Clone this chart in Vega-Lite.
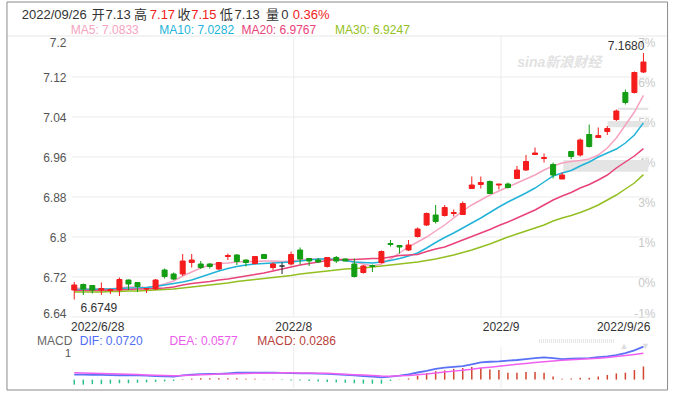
{
  "$schema": "https://vega.github.io/schema/vega-lite/v6.json",
  "width": 677,
  "height": 394,
  "autosize": {"type": "fit", "contains": "padding"},
  "padding": 0,
  "background": "white",
  "config": {"view": {"stroke": null}, "font": "Liberation Sans, Noto Sans CJK SC", "text": {"font": "Liberation Sans, Noto Sans CJK SC"}},
  "datasets": {
    "one": [{}],
    "levels": [{"p": 7.12}, {"p": 7.04}, {"p": 6.96}, {"p": 6.88}, {"p": 6.8}, {"p": 6.72}, {"p": 6.64}],
    "months": [{"m": "2022/8", "i": 24.29}, {"m": "2022/9", "i": 47.24}],
    "head": [
      {"t": "2022/09/26", "k": "g", "x": -5.81},
      {"t": "开", "k": "g", "x": 1.93},
      {"t": "7.13", "k": "g", "x": 3.45},
      {"t": "高", "k": "g", "x": 6.62},
      {"t": "7.17", "k": "r", "x": 8.36},
      {"t": "收", "k": "g", "x": 11.42},
      {"t": "7.15", "k": "r", "x": 12.94},
      {"t": "低", "k": "g", "x": 16.11},
      {"t": "7.13", "k": "g", "x": 17.74},
      {"t": "量", "k": "g", "x": 21.23},
      {"t": "0", "k": "g", "x": 22.92},
      {"t": "0.36%", "k": "r", "x": 24.18}
    ],
    "days": [
      {"d":"2022-06-28","i":0,"o":6.694,"h":6.710,"l":6.675,"c":6.704,"ma5":6.698,"ma10":6.695,"ma20":6.693,"ma30":6.690,"dif":0.0110,"dea":0.0151,"hist":-0.011},
      {"d":"2022-06-29","i":1,"o":6.705,"h":6.707,"l":6.684,"c":6.696,"ma5":6.697,"ma10":6.695,"ma20":6.693,"ma30":6.690,"dif":0.0107,"dea":0.0145,"hist":-0.011},
      {"d":"2022-06-30","i":2,"o":6.703,"h":6.704,"l":6.687,"c":6.694,"ma5":6.696,"ma10":6.695,"ma20":6.693,"ma30":6.690,"dif":0.0104,"dea":0.0139,"hist":-0.010},
      {"d":"2022-07-01","i":3,"o":6.694,"h":6.709,"l":6.684,"c":6.697,"ma5":6.696,"ma10":6.696,"ma20":6.693,"ma30":6.690,"dif":0.0101,"dea":0.0133,"hist":-0.010},
      {"d":"2022-07-04","i":4,"o":6.693,"h":6.697,"l":6.686,"c":6.695,"ma5":6.696,"ma10":6.696,"ma20":6.694,"ma30":6.691,"dif":0.0098,"dea":0.0127,"hist":-0.009},
      {"d":"2022-07-05","i":5,"o":6.694,"h":6.719,"l":6.682,"c":6.715,"ma5":6.698,"ma10":6.697,"ma20":6.694,"ma30":6.691,"dif":0.0095,"dea":0.0121,"hist":-0.008},
      {"d":"2022-07-06","i":6,"o":6.714,"h":6.715,"l":6.694,"c":6.706,"ma5":6.700,"ma10":6.698,"ma20":6.695,"ma30":6.692,"dif":0.0093,"dea":0.0115,"hist":-0.008},
      {"d":"2022-07-07","i":7,"o":6.709,"h":6.710,"l":6.690,"c":6.701,"ma5":6.700,"ma10":6.698,"ma20":6.696,"ma30":6.692,"dif":0.0092,"dea":0.0109,"hist":-0.007},
      {"d":"2022-07-08","i":8,"o":6.696,"h":6.698,"l":6.688,"c":6.697,"ma5":6.699,"ma10":6.699,"ma20":6.696,"ma30":6.693,"dif":0.0085,"dea":0.0103,"hist":-0.006},
      {"d":"2022-07-11","i":9,"o":6.696,"h":6.716,"l":6.694,"c":6.714,"ma5":6.702,"ma10":6.701,"ma20":6.697,"ma30":6.694,"dif":0.0078,"dea":0.0096,"hist":-0.005},
      {"d":"2022-07-12","i":10,"o":6.734,"h":6.737,"l":6.717,"c":6.721,"ma5":6.706,"ma10":6.704,"ma20":6.698,"ma30":6.695,"dif":0.0072,"dea":0.0090,"hist":-0.004},
      {"d":"2022-07-13","i":11,"o":6.726,"h":6.729,"l":6.714,"c":6.716,"ma5":6.712,"ma10":6.707,"ma20":6.700,"ma30":6.696,"dif":0.0067,"dea":0.0085,"hist":-0.003},
      {"d":"2022-07-14","i":12,"o":6.726,"h":6.766,"l":6.722,"c":6.752,"ma5":6.722,"ma10":6.710,"ma20":6.704,"ma30":6.698,"dif":0.0090,"dea":0.0087,"hist":0.001},
      {"d":"2022-07-15","i":13,"o":6.749,"h":6.766,"l":6.739,"c":6.754,"ma5":6.730,"ma10":6.714,"ma20":6.707,"ma30":6.700,"dif":0.0110,"dea":0.0095,"hist":0.002},
      {"d":"2022-07-18","i":14,"o":6.746,"h":6.752,"l":6.736,"c":6.739,"ma5":6.738,"ma10":6.720,"ma20":6.709,"ma30":6.702,"dif":0.0118,"dea":0.0105,"hist":0.003},
      {"d":"2022-07-19","i":15,"o":6.746,"h":6.748,"l":6.737,"c":6.741,"ma5":6.744,"ma10":6.726,"ma20":6.711,"ma30":6.704,"dif":0.0122,"dea":0.0113,"hist":0.003},
      {"d":"2022-07-20","i":16,"o":6.736,"h":6.750,"l":6.734,"c":6.749,"ma5":6.747,"ma10":6.732,"ma20":6.714,"ma30":6.706,"dif":0.0126,"dea":0.0120,"hist":0.003},
      {"d":"2022-07-21","i":17,"o":6.761,"h":6.767,"l":6.754,"c":6.763,"ma5":6.748,"ma10":6.737,"ma20":6.716,"ma30":6.708,"dif":0.0138,"dea":0.0124,"hist":0.003},
      {"d":"2022-07-22","i":18,"o":6.764,"h":6.766,"l":6.744,"c":6.751,"ma5":6.750,"ma10":6.741,"ma20":6.719,"ma30":6.711,"dif":0.0150,"dea":0.0127,"hist":0.003},
      {"d":"2022-07-25","i":19,"o":6.754,"h":6.755,"l":6.741,"c":6.749,"ma5":6.751,"ma10":6.744,"ma20":6.722,"ma30":6.713,"dif":0.0152,"dea":0.0133,"hist":0.002},
      {"d":"2022-07-26","i":20,"o":6.747,"h":6.762,"l":6.745,"c":6.761,"ma5":6.751,"ma10":6.746,"ma20":6.725,"ma30":6.715,"dif":0.0152,"dea":0.0138,"hist":0.002},
      {"d":"2022-07-27","i":21,"o":6.765,"h":6.766,"l":6.756,"c":6.757,"ma5":6.752,"ma10":6.747,"ma20":6.728,"ma30":6.717,"dif":0.0151,"dea":0.0141,"hist":0.001},
      {"d":"2022-07-28","i":22,"o":6.739,"h":6.749,"l":6.734,"c":6.746,"ma5":6.752,"ma10":6.748,"ma20":6.732,"ma30":6.719,"dif":0.0150,"dea":0.0143,"hist":0.0005},
      {"d":"2022-07-29","i":23,"o":6.742,"h":6.749,"l":6.726,"c":6.742,"ma5":6.751,"ma10":6.749,"ma20":6.736,"ma30":6.721,"dif":0.0146,"dea":0.0148,"hist":-0.001},
      {"d":"2022-08-01","i":24,"o":6.746,"h":6.771,"l":6.743,"c":6.765,"ma5":6.752,"ma10":6.750,"ma20":6.740,"ma30":6.723,"dif":0.0142,"dea":0.0147,"hist":-0.002},
      {"d":"2022-08-02","i":25,"o":6.774,"h":6.779,"l":6.745,"c":6.756,"ma5":6.754,"ma10":6.752,"ma20":6.744,"ma30":6.726,"dif":0.0138,"dea":0.0145,"hist":-0.002},
      {"d":"2022-08-03","i":26,"o":6.757,"h":6.758,"l":6.742,"c":6.752,"ma5":6.756,"ma10":6.754,"ma20":6.747,"ma30":6.728,"dif":0.0134,"dea":0.0142,"hist":-0.003},
      {"d":"2022-08-04","i":27,"o":6.754,"h":6.758,"l":6.748,"c":6.750,"ma5":6.756,"ma10":6.756,"ma20":6.750,"ma30":6.730,"dif":0.0130,"dea":0.0139,"hist":-0.004},
      {"d":"2022-08-05","i":28,"o":6.741,"h":6.760,"l":6.739,"c":6.759,"ma5":6.756,"ma10":6.756,"ma20":6.753,"ma30":6.732,"dif":0.0126,"dea":0.0136,"hist":-0.005},
      {"d":"2022-08-08","i":29,"o":6.759,"h":6.762,"l":6.748,"c":6.752,"ma5":6.755,"ma10":6.755,"ma20":6.755,"ma30":6.734,"dif":0.0115,"dea":0.0128,"hist":-0.006},
      {"d":"2022-08-09","i":30,"o":6.756,"h":6.757,"l":6.752,"c":6.752,"ma5":6.753,"ma10":6.753,"ma20":6.755,"ma30":6.736,"dif":0.0103,"dea":0.0118,"hist":-0.007},
      {"d":"2022-08-10","i":31,"o":6.746,"h":6.757,"l":6.719,"c":6.721,"ma5":6.750,"ma10":6.750,"ma20":6.755,"ma30":6.737,"dif":0.0092,"dea":0.0108,"hist":-0.008},
      {"d":"2022-08-11","i":32,"o":6.729,"h":6.744,"l":6.727,"c":6.742,"ma5":6.746,"ma10":6.749,"ma20":6.756,"ma30":6.738,"dif":0.0078,"dea":0.0098,"hist":-0.009},
      {"d":"2022-08-12","i":33,"o":6.743,"h":6.745,"l":6.730,"c":6.741,"ma5":6.742,"ma10":6.748,"ma20":6.757,"ma30":6.740,"dif":0.0064,"dea":0.0088,"hist":-0.009},
      {"d":"2022-08-15","i":34,"o":6.749,"h":6.773,"l":6.747,"c":6.771,"ma5":6.746,"ma10":6.750,"ma20":6.757,"ma30":6.742,"dif":0.0050,"dea":0.0078,"hist":-0.009},
      {"d":"2022-08-16","i":35,"o":6.787,"h":6.794,"l":6.781,"c":6.785,"ma5":6.756,"ma10":6.753,"ma20":6.760,"ma30":6.744,"dif":0.0065,"dea":0.0075,"hist":-0.003},
      {"d":"2022-08-17","i":36,"o":6.783,"h":6.784,"l":6.767,"c":6.780,"ma5":6.768,"ma10":6.757,"ma20":6.763,"ma30":6.746,"dif":0.0085,"dea":0.0082,"hist":0.0005},
      {"d":"2022-08-18","i":37,"o":6.774,"h":6.794,"l":6.772,"c":6.784,"ma5":6.780,"ma10":6.762,"ma20":6.764,"ma30":6.748,"dif":0.0115,"dea":0.0090,"hist":0.0025},
      {"d":"2022-08-19","i":38,"o":6.801,"h":6.819,"l":6.799,"c":6.816,"ma5":6.790,"ma10":6.768,"ma20":6.765,"ma30":6.750,"dif":0.0155,"dea":0.0105,"hist":0.0084},
      {"d":"2022-08-22","i":39,"o":6.824,"h":6.849,"l":6.822,"c":6.847,"ma5":6.800,"ma10":6.778,"ma20":6.771,"ma30":6.753,"dif":0.0190,"dea":0.0120,"hist":0.0143},
      {"d":"2022-08-23","i":40,"o":6.844,"h":6.864,"l":6.827,"c":6.831,"ma5":6.812,"ma10":6.789,"ma20":6.776,"ma30":6.756,"dif":0.0235,"dea":0.0145,"hist":0.0185},
      {"d":"2022-08-24","i":41,"o":6.843,"h":6.864,"l":6.841,"c":6.859,"ma5":6.824,"ma10":6.799,"ma20":6.780,"ma30":6.760,"dif":0.0260,"dea":0.0165,"hist":0.0202},
      {"d":"2022-08-25","i":42,"o":6.847,"h":6.855,"l":6.841,"c":6.849,"ma5":6.838,"ma10":6.808,"ma20":6.787,"ma30":6.764,"dif":0.0280,"dea":0.0185,"hist":0.0235},
      {"d":"2022-08-26","i":43,"o":6.845,"h":6.871,"l":6.844,"c":6.867,"ma5":6.852,"ma10":6.818,"ma20":6.794,"ma30":6.769,"dif":0.0294,"dea":0.0205,"hist":0.0252},
      {"d":"2022-08-29","i":44,"o":6.897,"h":6.921,"l":6.897,"c":6.904,"ma5":6.864,"ma10":6.828,"ma20":6.801,"ma30":6.774,"dif":0.0335,"dea":0.0225,"hist":0.0277},
      {"d":"2022-08-30","i":45,"o":6.905,"h":6.921,"l":6.897,"c":6.909,"ma5":6.874,"ma10":6.838,"ma20":6.808,"ma30":6.780,"dif":0.0378,"dea":0.0252,"hist":0.0252},
      {"d":"2022-08-31","i":46,"o":6.911,"h":6.913,"l":6.886,"c":6.887,"ma5":6.884,"ma10":6.849,"ma20":6.815,"ma30":6.786,"dif":0.0390,"dea":0.0270,"hist":0.0218},
      {"d":"2022-09-01","i":47,"o":6.904,"h":6.906,"l":6.895,"c":6.906,"ma5":6.892,"ma10":6.860,"ma20":6.823,"ma30":6.793,"dif":0.0400,"dea":0.0292,"hist":0.0210},
      {"d":"2022-09-02","i":48,"o":6.906,"h":6.909,"l":6.897,"c":6.899,"ma5":6.900,"ma10":6.870,"ma20":6.830,"ma30":6.800,"dif":0.0415,"dea":0.0313,"hist":0.0151},
      {"d":"2022-09-05","i":49,"o":6.917,"h":6.942,"l":6.917,"c":6.934,"ma5":6.908,"ma10":6.879,"ma20":6.838,"ma30":6.806,"dif":0.0428,"dea":0.0334,"hist":0.0151},
      {"d":"2022-09-06","i":50,"o":6.934,"h":6.964,"l":6.932,"c":6.951,"ma5":6.916,"ma10":6.888,"ma20":6.846,"ma30":6.812,"dif":0.0448,"dea":0.0353,"hist":0.0168},
      {"d":"2022-09-07","i":51,"o":6.965,"h":6.979,"l":6.965,"c":6.968,"ma5":6.924,"ma10":6.898,"ma20":6.854,"ma30":6.818,"dif":0.0468,"dea":0.0372,"hist":0.0168},
      {"d":"2022-09-08","i":52,"o":6.957,"h":6.967,"l":6.949,"c":6.959,"ma5":6.934,"ma10":6.910,"ma20":6.864,"ma30":6.824,"dif":0.0487,"dea":0.0390,"hist":0.0151},
      {"d":"2022-09-09","i":53,"o":6.945,"h":6.949,"l":6.917,"c":6.924,"ma5":6.942,"ma10":6.922,"ma20":6.874,"ma30":6.832,"dif":0.0470,"dea":0.0405,"hist":0.0067},
      {"d":"2022-09-13","i":54,"o":6.916,"h":6.929,"l":6.916,"c":6.924,"ma5":6.948,"ma10":6.928,"ma20":6.882,"ma30":6.838,"dif":0.0448,"dea":0.0420,"hist":0.0017},
      {"d":"2022-09-14","i":55,"o":6.971,"h":6.972,"l":6.956,"c":6.961,"ma5":6.951,"ma10":6.933,"ma20":6.889,"ma30":6.843,"dif":0.0455,"dea":0.0432,"hist":0.0025},
      {"d":"2022-09-15","i":56,"o":6.964,"h":6.997,"l":6.961,"c":6.994,"ma5":6.953,"ma10":6.942,"ma20":6.898,"ma30":6.849,"dif":0.0462,"dea":0.0444,"hist":0.0042},
      {"d":"2022-09-16","i":57,"o":7.005,"h":7.025,"l":6.979,"c":6.981,"ma5":6.956,"ma10":6.950,"ma20":6.905,"ma30":6.856,"dif":0.0468,"dea":0.0457,"hist":0.0042},
      {"d":"2022-09-19","i":58,"o":6.999,"h":7.019,"l":6.999,"c":7.003,"ma5":6.964,"ma10":6.960,"ma20":6.914,"ma30":6.864,"dif":0.0490,"dea":0.0468,"hist":0.0067},
      {"d":"2022-09-20","i":59,"o":7.011,"h":7.022,"l":7.004,"c":7.017,"ma5":6.978,"ma10":6.968,"ma20":6.924,"ma30":6.874,"dif":0.0508,"dea":0.0485,"hist":0.0101},
      {"d":"2022-09-21","i":60,"o":7.035,"h":7.055,"l":7.032,"c":7.052,"ma5":6.998,"ma10":6.976,"ma20":6.938,"ma30":6.884,"dif":0.0535,"dea":0.0505,"hist":0.0134},
      {"d":"2022-09-22","i":61,"o":7.089,"h":7.095,"l":7.065,"c":7.069,"ma5":7.024,"ma10":6.988,"ma20":6.950,"ma30":6.896,"dif":0.0580,"dea":0.0527,"hist":0.0151},
      {"d":"2022-09-23","i":62,"o":7.089,"h":7.131,"l":7.087,"c":7.129,"ma5":7.050,"ma10":7.004,"ma20":6.962,"ma30":6.908,"dif":0.0640,"dea":0.0550,"hist":0.0210},
      {"d":"2022-09-26","i":63,"o":7.130,"h":7.168,"l":7.128,"c":7.150,"ma5":7.0833,"ma10":7.0282,"ma20":6.9767,"ma30":6.9247,"dif":0.0720,"dea":0.0577,"hist":0.0286}
    ]
  },
  "resolve": {"scale": {"y": "independent"}},
  "layer": [
    {
      "data": {"name": "days"},
      "resolve": {"axis": {"y": "independent"}},
      "layer": [
        {
          "data": {"name": "levels"},
          "mark": {"type": "rule", "color": "#ebebeb", "strokeWidth": 1},
          "encoding": {
            "x": {"datum": -0.25, "type": "quantitative", "axis": null},
            "x2": {"datum": 63.76},
            "y": {"field": "p", "type": "quantitative", "axis": null}
          }
        },
        {
          "data": {"name": "one"},
          "mark": {"type": "rule", "color": "#e6e6e6", "strokeWidth": 1},
          "encoding": {
            "x": {"datum": -7.448, "type": "quantitative", "axis": null},
            "x2": {"datum": 65.67},
            "y": {"datum": 7.202, "type": "quantitative", "axis": null}
          }
        },
        {
          "data": {"name": "months"},
          "mark": {"type": "rule", "color": "#ebebeb", "strokeWidth": 1},
          "encoding": {
            "x": {"field": "i", "type": "quantitative", "axis": null},
            "y": {"datum": 7.202, "type": "quantitative", "axis": null},
            "y2": {"datum": 6.64}
          }
        },
        {
          "data": {"name": "one"},
          "mark": {"type": "rect", "color": "#e4e4e4"},
          "encoding": {
            "x": {"datum": 54.13, "type": "quantitative", "axis": null},
            "x2": {"datum": 63.54},
            "y": {"datum": 6.954, "type": "quantitative", "axis": null},
            "y2": {"datum": 6.9306}
          }
        },
        {
          "data": {"name": "one"},
          "mark": {"type": "rect", "color": "#e4e4e4"},
          "encoding": {
            "x": {"datum": 59.04, "type": "quantitative", "axis": null},
            "x2": {"datum": 63.54},
            "y": {"datum": 7.032, "type": "quantitative", "axis": null},
            "y2": {"datum": 7.0194}
          }
        },
        {
          "data": {"name": "one"},
          "mark": {"type": "rect", "color": "#e4e4e4"},
          "encoding": {
            "x": {"datum": 60.13, "type": "quantitative", "axis": null},
            "x2": {"datum": 63.54},
            "y": {"datum": 7.0586, "type": "quantitative", "axis": null},
            "y2": {"datum": 7.054}
          }
        },
        {
          "data": {"name": "one"},
          "mark": {"type": "text", "align": "left", "baseline": "middle", "fontSize": 14, "fontStyle": "italic", "fontWeight": "bold", "color": "#e2e2e2"},
          "encoding": {
            "x": {"datum": 49.04, "type": "quantitative", "axis": null},
            "y": {"datum": 7.148, "type": "quantitative", "axis": null},
            "text": {"value": "sina新浪财经"}
          }
        },
        {
          "mark": {"type": "line", "color": "#f5a3c0", "strokeWidth": 1.5},
          "encoding": {
            "x": {"field": "i", "type": "quantitative", "axis": null},
            "y": {"field": "ma5", "type": "quantitative", "axis": null}
          }
        },
        {
          "mark": {"type": "line", "color": "#22b3d8", "strokeWidth": 1.5},
          "encoding": {
            "x": {"field": "i", "type": "quantitative", "axis": null},
            "y": {"field": "ma10", "type": "quantitative", "axis": null}
          }
        },
        {
          "mark": {"type": "line", "color": "#e8437a", "strokeWidth": 1.5},
          "encoding": {
            "x": {"field": "i", "type": "quantitative", "axis": null},
            "y": {"field": "ma20", "type": "quantitative", "axis": null}
          }
        },
        {
          "mark": {"type": "line", "color": "#93bf22", "strokeWidth": 1.5},
          "encoding": {
            "x": {"field": "i", "type": "quantitative", "axis": null},
            "y": {"field": "ma30", "type": "quantitative", "axis": null}
          }
        },
        {
          "mark": {"type": "rule", "strokeWidth": 1},
          "encoding": {
            "x": {
              "field": "i", "type": "quantitative",
              "scale": {"domain": [-7.666, 66.161], "nice": false, "zero": false},
              "axis": null
            },
            "y": {
              "field": "l", "type": "quantitative",
              "scale": {"domain": [6.486, 7.274], "nice": false, "zero": false},
              "axis": {
                "orient": "left", "offset": -68, "domain": false, "ticks": false, "grid": false,
                "labelPadding": 2, "labelOverlap": false, "labelBound": false,
                "values": [7.2, 7.12, 7.04, 6.96, 6.88, 6.8, 6.72, 6.64],
                "labelExpr": "'' + datum.value",
                "labelBaseline": {"condition": [{"test": "datum.value > 7.19", "value": "top"}, {"test": "datum.value < 6.65", "value": "alphabetic"}], "value": "middle"},
                "labelColor": "#555555", "labelFontSize": 12, "title": null
              }
            },
            "y2": {"field": "h"},
            "color": {"condition": [{"test": "datum.c > datum.o", "value": "#f41c1c"}, {"test": "datum.c < datum.o", "value": "#139d13"}], "value": "#222222"}
          }
        },
        {
          "mark": {"type": "bar", "size": 5, "strokeWidth": 1},
          "encoding": {
            "x": {"field": "i", "type": "quantitative", "axis": null},
            "y": {
              "field": "o", "type": "quantitative",
              "axis": {
                "orient": "right", "offset": -22, "domain": false, "ticks": false, "grid": false,
                "labelPadding": 0, "labelAlign": "right", "labelOverlap": false, "labelBound": false,
                "values": [7.2, 7.12, 7.04, 6.96, 6.88, 6.8, 6.72, 6.64],
                "labelExpr": "datum.value > 7.16 ? '7%' : datum.value > 7.08 ? '6%' : datum.value > 7.0 ? '5%' : datum.value > 6.92 ? '4%' : datum.value > 6.84 ? '3%' : datum.value > 6.76 ? '1%' : datum.value > 6.68 ? '0%' : '-1%'",
                "labelBaseline": {"condition": {"test": "datum.value < 6.65", "value": "alphabetic"}, "value": "top"},
                "labelColor": "#c8c8c8", "labelFontSize": 12, "title": null
              }
            },
            "y2": {"field": "c"},
            "color": {"condition": [{"test": "datum.c > datum.o", "value": "#f41c1c"}, {"test": "datum.c < datum.o", "value": "#139d13"}], "value": "#222222"},
            "stroke": {"condition": [{"test": "datum.c > datum.o", "value": "#f41c1c"}, {"test": "datum.c < datum.o", "value": "#139d13"}], "value": "#222222"}
          }
        },
        {
          "data": {"name": "months"},
          "mark": {"type": "text", "align": "center", "baseline": "middle", "fontSize": 12, "color": "#333333"},
          "encoding": {
            "x": {"field": "i", "type": "quantitative", "axis": null},
            "y": {"datum": 6.62, "type": "quantitative", "axis": null},
            "text": {"field": "m"}
          }
        },
        {
          "data": {"name": "one"},
          "mark": {"type": "text", "align": "left", "baseline": "middle", "fontSize": 12, "color": "#333333"},
          "encoding": {
            "x": {"datum": -0.36, "type": "quantitative", "axis": null},
            "y": {"datum": 6.62, "type": "quantitative", "axis": null},
            "text": {"value": "2022/6/28"}
          }
        },
        {
          "data": {"name": "one"},
          "mark": {"type": "text", "align": "right", "baseline": "middle", "fontSize": 12, "color": "#333333"},
          "encoding": {
            "x": {"datum": 63.76, "type": "quantitative", "axis": null},
            "y": {"datum": 6.62, "type": "quantitative", "axis": null},
            "text": {"value": "2022/9/26"}
          }
        },
        {
          "data": {"name": "one"},
          "mark": {"type": "text", "align": "right", "baseline": "middle", "fontSize": 12, "color": "#333333"},
          "encoding": {
            "x": {"datum": 63.11, "type": "quantitative", "axis": null},
            "y": {"datum": 7.182, "type": "quantitative", "axis": null},
            "text": {"value": "7.1680"}
          }
        },
        {
          "data": {"name": "one"},
          "mark": {"type": "text", "align": "left", "baseline": "middle", "fontSize": 12, "color": "#333333"},
          "encoding": {
            "x": {"datum": 0.7, "type": "quantitative", "axis": null},
            "y": {"datum": 6.658, "type": "quantitative", "axis": null},
            "text": {"value": "6.6749"}
          }
        },
        {
          "data": {"name": "head"},
          "mark": {"type": "text", "align": "left", "baseline": "middle", "fontSize": 13},
          "encoding": {
            "x": {"field": "x", "type": "quantitative", "axis": null},
            "y": {"datum": 7.244, "type": "quantitative", "axis": null},
            "text": {"field": "t"},
            "color": {"condition": {"test": "datum.k == 'r'", "value": "#f02020"}, "value": "#333333"}
          }
        },
        {
          "data": {"name": "one"},
          "mark": {"type": "text", "align": "left", "baseline": "middle", "fontSize": 12, "color": "#f5a3c0"},
          "encoding": {
            "x": {"datum": -0.39, "type": "quantitative", "axis": null},
            "y": {"datum": 7.215, "type": "quantitative", "axis": null},
            "text": {"value": "MA5: 7.0833"}
          }
        },
        {
          "data": {"name": "one"},
          "mark": {"type": "text", "align": "left", "baseline": "middle", "fontSize": 12, "color": "#22b3d8"},
          "encoding": {
            "x": {"datum": 9.42, "type": "quantitative", "axis": null},
            "y": {"datum": 7.215, "type": "quantitative", "axis": null},
            "text": {"value": "MA10: 7.0282"}
          }
        },
        {
          "data": {"name": "one"},
          "mark": {"type": "text", "align": "left", "baseline": "middle", "fontSize": 12, "color": "#e8437a"},
          "encoding": {
            "x": {"datum": 18.51, "type": "quantitative", "axis": null},
            "y": {"datum": 7.215, "type": "quantitative", "axis": null},
            "text": {"value": "MA20: 6.9767"}
          }
        },
        {
          "data": {"name": "one"},
          "mark": {"type": "text", "align": "left", "baseline": "middle", "fontSize": 12, "color": "#93bf22"},
          "encoding": {
            "x": {"datum": 28.87, "type": "quantitative", "axis": null},
            "y": {"datum": 7.215, "type": "quantitative", "axis": null},
            "text": {"value": "MA30: 6.9247"}
          }
        },
        {
          "data": {"name": "one"},
          "mark": {"type": "rect", "filled": false, "stroke": "#8a8a8a", "strokeWidth": 1},
          "encoding": {
            "x": {"datum": -7.448, "type": "quantitative", "axis": null},
            "x2": {"datum": 65.67},
            "y": {"datum": 7.27, "type": "quantitative", "axis": null},
            "y2": {"datum": 6.494}
          }
        }
      ]
    },
    {
      "data": {"name": "days"},
      "layer": [
        {
          "data": {"name": "months"},
          "mark": {"type": "rule", "color": "#ebebeb", "strokeWidth": 1},
          "encoding": {
            "x": {"field": "i", "type": "quantitative", "axis": null},
            "y": {"datum": 0.0712, "type": "quantitative", "axis": null},
            "y2": {"datum": -0.0183}
          }
        },
        {
          "mark": {"type": "rule", "strokeWidth": 1.5},
          "encoding": {
            "x": {"field": "i", "type": "quantitative", "axis": null},
            "y": {"field": "hist", "type": "quantitative", "axis": null, "scale": {"domain": [-0.03144, 0.8288], "nice": false, "zero": false}},
            "y2": {"datum": 0},
            "color": {"condition": {"test": "datum.hist >= 0", "value": "#d2452f"}, "value": "#2bbf8a"}
          }
        },
        {
          "mark": {"type": "line", "color": "#5a72f5", "strokeWidth": 1.8},
          "encoding": {
            "x": {"field": "i", "type": "quantitative", "axis": null},
            "y": {"field": "dif", "type": "quantitative", "axis": null}
          }
        },
        {
          "mark": {"type": "line", "color": "#f060f0", "strokeWidth": 1.5},
          "encoding": {
            "x": {"field": "i", "type": "quantitative", "axis": null},
            "y": {"field": "dea", "type": "quantitative", "axis": null}
          }
        },
        {
          "data": {"name": "one"},
          "mark": {"type": "text", "align": "left", "baseline": "middle", "fontSize": 12, "color": "#666666"},
          "encoding": {
            "x": {"datum": -4.12, "type": "quantitative", "axis": null},
            "y": {"datum": 0.0848, "type": "quantitative", "axis": null},
            "text": {"value": "MACD"}
          }
        },
        {
          "data": {"name": "one"},
          "mark": {"type": "text", "align": "left", "baseline": "middle", "fontSize": 12, "color": "#4f6df5"},
          "encoding": {
            "x": {"datum": 0.62, "type": "quantitative", "axis": null},
            "y": {"datum": 0.0848, "type": "quantitative", "axis": null},
            "text": {"value": "DIF: 0.0720"}
          }
        },
        {
          "data": {"name": "one"},
          "mark": {"type": "text", "align": "left", "baseline": "middle", "fontSize": 12, "color": "#ec5cec"},
          "encoding": {
            "x": {"datum": 10.55, "type": "quantitative", "axis": null},
            "y": {"datum": 0.0848, "type": "quantitative", "axis": null},
            "text": {"value": "DEA: 0.0577"}
          }
        },
        {
          "data": {"name": "one"},
          "mark": {"type": "text", "align": "left", "baseline": "middle", "fontSize": 12, "color": "#b8403a"},
          "encoding": {
            "x": {"datum": 20.25, "type": "quantitative", "axis": null},
            "y": {"datum": 0.0848, "type": "quantitative", "axis": null},
            "text": {"value": "MACD: 0.0286"}
          }
        },
        {
          "data": {"name": "one"},
          "mark": {"type": "text", "align": "center", "baseline": "middle", "fontSize": 11, "color": "#555555"},
          "encoding": {
            "x": {"datum": -0.69, "type": "quantitative", "axis": null},
            "y": {"datum": 0.056, "type": "quantitative", "axis": null},
            "text": {"value": "1"}
          }
        },
        {
          "data": {"name": "one"},
          "mark": {"type": "rule", "color": "#e6e6e6", "strokeWidth": 4, "strokeDash": [1, 1]},
          "encoding": {
            "x": {"datum": 51.44, "type": "quantitative", "axis": null},
            "x2": {"datum": 59.73},
            "y": {"datum": 0.0843, "type": "quantitative", "axis": null}
          }
        },
        {
          "data": {"name": "one"},
          "mark": {"type": "text", "align": "center", "baseline": "middle", "fontSize": 9, "color": "#dddddd"},
          "encoding": {
            "x": {"datum": 60.83, "type": "quantitative", "axis": null},
            "y": {"datum": 0.0734, "type": "quantitative", "axis": null},
            "text": {"value": "▲"}
          }
        },
        {
          "data": {"name": "one"},
          "mark": {"type": "text", "align": "center", "baseline": "middle", "fontSize": 9, "color": "#dddddd"},
          "encoding": {
            "x": {"datum": 63.23, "type": "quantitative", "axis": null},
            "y": {"datum": 0.0734, "type": "quantitative", "axis": null},
            "text": {"value": "▼"}
          }
        }
      ]
    }
  ]
}
